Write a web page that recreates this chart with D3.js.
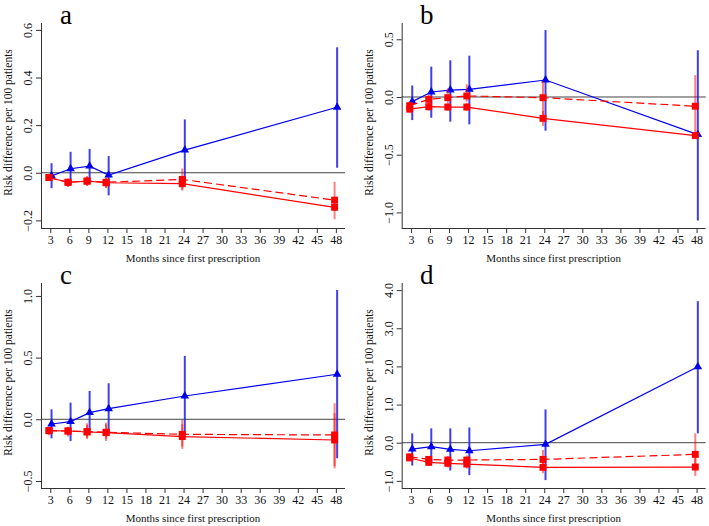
<!DOCTYPE html>
<html><head><meta charset="utf-8">
<script src="https://cdn.jsdelivr.net/npm/d3@7"></script>
<style>
html,body{margin:0;padding:0;background:#fff;}
svg{display:block;font-family:"Liberation Serif","Times New Roman",serif;}
</style></head>
<body><svg id="chart" width="709" height="526"></svg>
<script>
// ---- data ----
const months = [3, 6, 9, 12, 24, 48];
const xTicks = [3, 6, 9, 12, 15, 18, 21, 24, 27, 30, 33, 36, 39, 42, 45, 48];
const panelLetters = ["a", "b", "c", "d"];
const xTitle = "Months since first prescription";
const yTitle = "Risk difference per 100 patients";

const aYTicks = [-0.2, 0.0, 0.2, 0.4, 0.6];
const aBlue = [-0.013, 0.017, 0.028, -0.010, 0.095, 0.275];
const aBlueLo = [-0.065, -0.050, -0.045, -0.095, -0.035, 0.021];
const aBlueHi = [0.040, 0.088, 0.100, 0.070, 0.224, 0.527];
const aRedSolid = [-0.020, -0.040, -0.035, -0.042, -0.046, -0.145];
const aRedSolidLo = [-0.035, -0.060, -0.055, -0.065, -0.075, -0.195];
const aRedSolidHi = [-0.005, -0.025, -0.015, -0.020, -0.020, -0.110];
const aRedDashed = [-0.020, -0.040, -0.035, -0.040, -0.028, -0.115];
const aRedDashedLo = [-0.035, -0.058, -0.055, -0.062, -0.070, -0.160];
const aRedDashedHi = [-0.005, -0.025, -0.015, -0.020, 0.018, -0.038];

const bYTicks = [-1.0, -0.5, 0.0, 0.5];
const bBlue = [-0.040, 0.043, 0.060, 0.066, 0.147, -0.326];
const bBlueLo = [-0.200, -0.180, -0.214, -0.237, -0.292, -1.070];
const bBlueHi = [0.100, 0.263, 0.318, 0.358, 0.580, 0.405];
const bRedSolid = [-0.105, -0.084, -0.087, -0.087, -0.185, -0.335];
const bRedSolidLo = [-0.140, -0.120, -0.120, -0.120, -0.250, -0.360];
const bRedSolidHi = [-0.070, -0.050, -0.050, -0.050, -0.120, -0.300];
const bRedDashed = [-0.075, -0.020, -0.006, 0.009, -0.006, -0.080];
const bRedDashedLo = [-0.110, -0.060, -0.050, -0.040, -0.200, -0.340];
const bRedDashedHi = [-0.040, 0.020, 0.075, 0.110, 0.139, 0.190];

const cYTicks = [-0.5, 0.0, 0.5, 1.0];
const cBlue = [-0.038, -0.019, 0.054, 0.086, 0.189, 0.365];
const cBlueLo = [-0.154, -0.176, -0.090, -0.110, -0.130, -0.316];
const cBlueHi = [0.081, 0.135, 0.230, 0.292, 0.514, 1.049];
const cRedSolid = [-0.092, -0.095, -0.103, -0.108, -0.140, -0.168];
const cRedSolidLo = [-0.130, -0.140, -0.160, -0.176, -0.240, -0.397];
const cRedSolidHi = [-0.060, -0.060, -0.045, -0.040, -0.040, 0.050];
const cRedDashed = [-0.092, -0.095, -0.100, -0.105, -0.122, -0.127];
const cRedDashedLo = [-0.120, -0.130, -0.150, -0.160, -0.220, -0.380];
const cRedDashedHi = [-0.065, -0.065, -0.032, -0.027, -0.005, 0.130];

const dYTicks = [-1.0, 0.0, 1.0, 2.0, 3.0, 4.0];
const dBlue = [-0.166, -0.105, -0.175, -0.210, -0.044, 1.990];
const dBlueLo = [-0.600, -0.540, -0.730, -0.850, -0.980, 0.245];
const dBlueHi = [0.245, 0.376, 0.376, 0.400, 0.873, 3.710];
const dRedSolid = [-0.400, -0.515, -0.540, -0.560, -0.646, -0.638];
const dRedSolidLo = [-0.480, -0.600, -0.650, -0.680, -0.800, -0.870];
const dRedSolidHi = [-0.320, -0.430, -0.430, -0.440, -0.500, -0.400];
const dRedDashed = [-0.370, -0.437, -0.454, -0.454, -0.437, -0.306];
const dRedDashedLo = [-0.450, -0.520, -0.550, -0.560, -0.650, -0.700];
const dRedDashedHi = [-0.290, -0.350, -0.350, -0.330, -0.190, 0.245];

// ---- layout ----
const panels = [
  {letter: panelLetters[0], left: 41, top: 23, yDomain: [-0.232, 0.629], ticks: aYTicks,
   blue: [aBlue, aBlueLo, aBlueHi], solid: [aRedSolid, aRedSolidLo, aRedSolidHi], dashed: [aRedDashed, aRedDashedLo, aRedDashedHi]},
  {letter: panelLetters[1], left: 401.7, top: 23, yDomain: [-1.135, 0.641], ticks: bYTicks,
   blue: [bBlue, bBlueLo, bBlueHi], solid: [bRedSolid, bRedSolidLo, bRedSolidHi], dashed: [bRedDashed, bRedDashedLo, bRedDashedHi]},
  {letter: panelLetters[2], left: 41, top: 283, yDomain: [-0.557, 1.105], ticks: cYTicks,
   blue: [cBlue, cBlueLo, cBlueHi], solid: [cRedSolid, cRedSolidLo, cRedSolidHi], dashed: [cRedDashed, cRedDashedLo, cRedDashedHi]},
  {letter: panelLetters[3], left: 401.7, top: 283, yDomain: [-1.187, 4.186], ticks: dYTicks,
   blue: [dBlue, dBlueLo, dBlueHi], solid: [dRedSolid, dRedSolidLo, dRedSolidHi], dashed: [dRedDashed, dRedDashedLo, dRedDashedHi]}
];
const W = 304, H = 205;
const svg = d3.select("#chart");
const fmt = v => d3.format(".1f")(v).replace("-", "\u2212");

panels.forEach(p => {
  const g = svg.append("g").attr("transform", `translate(${p.left},${p.top})`);
  const x = d3.scaleLinear().domain([1.54, 49.44]).range([0, W]);
  const y = d3.scaleLinear().domain(p.yDomain).range([H, 0]);

  // zero line
  g.append("line").attr("x1", 0).attr("x2", W).attr("y1", y(0)).attr("y2", y(0))
    .attr("stroke", "#444").attr("stroke-width", 1);

  // axes
  const xa = g.append("g").attr("transform", `translate(0,${H})`)
    .call(d3.axisBottom(x).tickValues(xTicks).tickSize(5).tickSizeOuter(0).tickPadding(2));
  xa.select(".domain").attr("d", `M0,0.5H${W}`);
  const ya = g.append("g")
    .call(d3.axisLeft(y).tickValues(p.ticks).tickFormat(fmt).tickSize(5).tickSizeOuter(0));
  ya.select(".domain").attr("d", `M0.5,0V${H}`);
  [xa, ya].forEach(a => {
    a.selectAll(".domain, .tick line").attr("stroke", "#333");
    a.selectAll("text").attr("font-family", "Liberation Serif").attr("font-size", 12).attr("fill", "#111");
  });
  ya.selectAll(".tick text")
    .attr("x", null).attr("dy", null)
    .attr("text-anchor", "middle")
    .attr("transform", "translate(-9,0) rotate(-90)");

  // titles
  g.append("text").attr("x", W / 2).attr("y", H + 34).attr("text-anchor", "middle")
    .attr("font-size", 11).attr("fill", "#111").text(xTitle);
  g.append("text").attr("transform", `translate(-29,${H / 2 - 3}) rotate(-90)`)
    .attr("text-anchor", "middle").attr("font-size", 11.5).attr("fill", "#111").text(yTitle);
  g.append("text").attr("x", 25).attr("y", 1).attr("text-anchor", "middle")
    .attr("font-size", 27).attr("fill", "#000").text(p.letter);

  const series = [
    {d: p.blue, off: 0.2, color: "#0000ee", ci: "rgba(30,30,230,0.85)", dash: null, shape: "tri"},
    {d: p.dashed, off: -0.2, color: "#ff0000", ci: "rgba(255,0,0,0.5)", dash: "8,4", shape: "sq"},
    {d: p.solid, off: -0.2, color: "#ff0000", ci: "rgba(255,0,0,0.5)", dash: null, shape: "sq"}
  ];
  series.forEach(s => {
    const pts = months.map((m, i) => ({m: m + s.off, v: s.d[0][i], lo: s.d[1][i], hi: s.d[2][i]}));
    g.selectAll(null).data(pts).enter().append("line")
      .attr("x1", d => x(d.m)).attr("x2", d => x(d.m))
      .attr("y1", d => y(d.lo)).attr("y2", d => y(d.hi))
      .attr("stroke", s.ci).attr("stroke-width", 2);
    g.append("path").datum(pts)
      .attr("d", d3.line().x(d => x(d.m)).y(d => y(d.v)))
      .attr("fill", "none").attr("stroke", s.color).attr("stroke-width", 1.2)
      .attr("stroke-dasharray", s.dash);
    const sym = s.shape === "tri" ? d3.symbol(d3.symbolTriangle, 32) : d3.symbol(d3.symbolSquare, 48);
    g.selectAll(null).data(pts).enter().append("path")
      .attr("transform", d => `translate(${x(d.m)},${y(d.v)})`)
      .attr("d", sym).attr("fill", s.color);
  });
});
</script></body></html>
